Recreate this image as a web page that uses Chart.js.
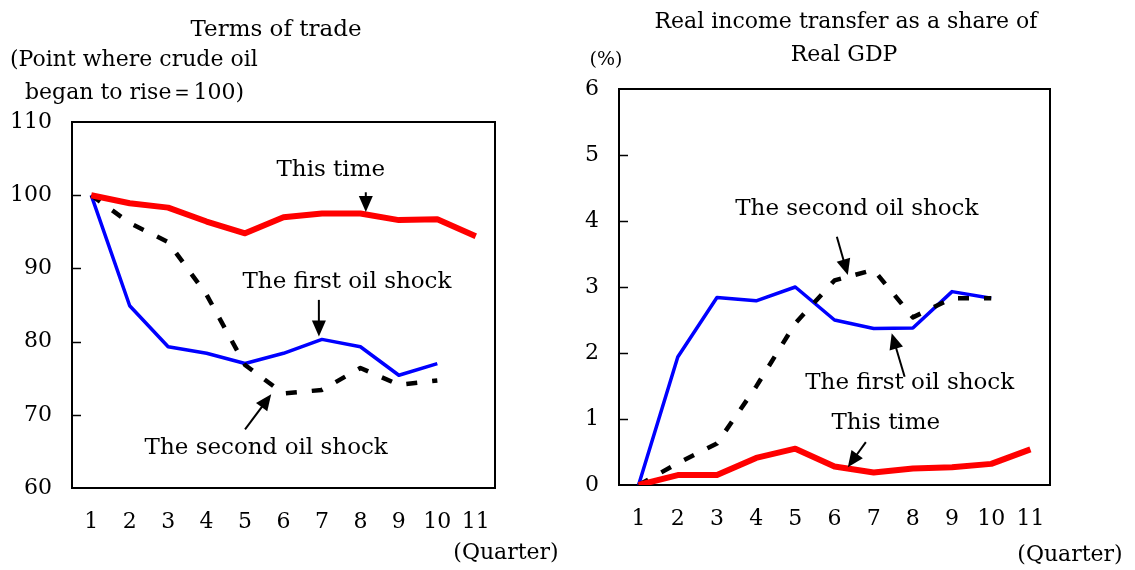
<!DOCTYPE html>
<html>
<head>
<meta charset="utf-8">
<script src="https://cdn.jsdelivr.net/npm/chart.js@4"></script>
<style>
  body { margin: 0; background: #fff; }
  canvas { position: absolute; left: 0; top: 0; }
</style>
</head>
<body>
<canvas id="left" width="1135" height="570"></canvas>
<canvas id="right" width="1135" height="570"></canvas>
<script>
const quarters = ["1", "2", "3", "4", "5", "6", "7", "8", "9", "10", "11"];

// Terms of trade (point where crude oil began to rise = 100)
const totThisTime = [100, 98.9, 98.3, 96.4, 94.8, 97.0, 97.5, 97.5, 96.6, 96.7, 94.4];
const totFirstShock = [100, 84.9, 79.3, 78.4, 77.0, 78.4, 80.3, 79.3, 75.4, 77.0, null];
const totSecondShock = [100, 96.2, 93.6, 86.4, 76.8, 72.9, 73.4, 76.4, 74.1, 74.7, null];

// Real income transfer as a share of real GDP (%)
const ritThisTime = [0, 0.15, 0.15, 0.41, 0.55, 0.28, 0.19, 0.25, 0.27, 0.32, 0.54];
const ritFirstShock = [0, 1.94, 2.84, 2.79, 3.0, 2.5, 2.37, 2.38, 2.93, 2.83, null];
const ritSecondShock = [0, 0.33, 0.63, 1.49, 2.45, 3.1, 3.26, 2.54, 2.83, 2.83, null];

const FONT = '"DejaVu Serif", serif';

const extras = {
  id: "extras",
  beforeDatasetsDraw(chart, args, opts) {
    const { ctx, chartArea: a } = chart;
    const y = chart.scales.y;
    ctx.save();
    ctx.strokeStyle = "#000";
    ctx.lineWidth = 2;
    ctx.strokeRect(a.left, a.top, a.right - a.left, a.bottom - a.top);
    ctx.lineWidth = 1.5;
    y.ticks.forEach((t) => {
      if (t.value === y.min || t.value === y.max) return;
      const py = Math.round(y.getPixelForValue(t.value)) + 0.5;
      ctx.beginPath();
      ctx.moveTo(a.left, py);
      ctx.lineTo(a.left + 9, py);
      ctx.stroke();
    });
    ctx.restore();
  },
  afterDatasetsDraw(chart, args, opts) {
    const { ctx } = chart;
    const xs = chart.scales.x;
    const ys = chart.scales.y;
    const px = (p) => [xs.getPixelForValue(p[0]), ys.getPixelForValue(p[1])];
    ctx.save();
    ctx.fillStyle = "#000";
    ctx.strokeStyle = "#000";
    ctx.textBaseline = "middle";
    (opts.notes || []).forEach((n) => {
      const [tx, ty] = px(n.at);
      ctx.font = "23px " + FONT;
      ctx.textAlign = "center";
      ctx.fillText(n.label, tx, ty);
      const [x1, y1] = px(n.from);
      const [x2, y2] = px(n.to);
      const ang = Math.atan2(y2 - y1, x2 - x1);
      const head = 16, half = 7;
      ctx.lineWidth = 2;
      ctx.beginPath();
      ctx.moveTo(x1, y1);
      ctx.lineTo(x2 - Math.cos(ang) * head * 0.8, y2 - Math.sin(ang) * head * 0.8);
      ctx.stroke();
      ctx.beginPath();
      ctx.moveTo(x2, y2);
      ctx.lineTo(x2 - head * Math.cos(ang) + half * Math.sin(ang), y2 - head * Math.sin(ang) - half * Math.cos(ang));
      ctx.lineTo(x2 - head * Math.cos(ang) - half * Math.sin(ang), y2 - head * Math.sin(ang) + half * Math.cos(ang));
      ctx.closePath();
      ctx.fill();
    });
    (opts.texts || []).forEach((t) => {
      ctx.font = (t.size || 22) + "px " + FONT;
      ctx.textAlign = t.align || "center";
      ctx.fillText(t.text, t.x, t.y);
    });
    ctx.restore();
  },
};

function makeChart(id, cfg) {
  return new Chart(document.getElementById(id), {
    type: "line",
    data: {
      labels: quarters,
      datasets: [
        { label: "This time", data: cfg.red, borderColor: "#ff0000", borderWidth: 6, order: 1 },
        { label: "The second oil shock", data: cfg.black, borderColor: "#000", borderWidth: 4.5, borderDash: [11, 15], order: 2 },
        { label: "The first oil shock", data: cfg.blue, borderColor: "#0000ff", borderWidth: 3.5, order: 3 },
      ],
    },
    options: {
      responsive: false,
      animation: false,
      events: [],
      elements: { point: { radius: 0 }, line: { tension: 0, borderJoinStyle: "round" } },
      layout: { padding: cfg.padding },
      plugins: {
        legend: { display: false },
        tooltip: { enabled: false },
        extras: { notes: cfg.notes, texts: cfg.texts },
      },
      scales: {
        x: {
          offset: true,
          grid: { display: false, drawTicks: false },
          border: { display: false },
          ticks: { color: "#000", font: { family: FONT, size: 22 }, padding: 21, maxRotation: 0, autoSkip: false },
          afterFit: (s) => { s.height = 60; },
        },
        y: {
          min: cfg.min,
          max: cfg.max,
          grid: { display: false, drawTicks: false },
          border: { display: false },
          ticks: { stepSize: cfg.step, color: "#000", font: { family: FONT, size: 22 }, padding: 20 },
          afterFit: (s) => { s.width = 60; },
        },
      },
    },
    plugins: [extras],
  });
}

makeChart("left", {
  red: totThisTime,
  blue: totFirstShock,
  black: totSecondShock,
  min: 60,
  max: 110,
  step: 10,
  padding: { left: 12, right: 640, top: 122, bottom: 22 },
  notes: [
    { label: "This time", at: [6.23, 103.5], from: [7.14, 100.4], to: [7.14, 97.7] },
    { label: "The first oil shock", at: [6.65, 88.2], from: [5.92, 85.7], to: [5.92, 80.7] },
    { label: "The second oil shock", at: [4.55, 65.5], from: [4.0, 68.0], to: [4.68, 72.8] },
  ],
  texts: [
    { text: "Terms of trade", x: 276, y: 30, size: 23 },
    { text: "(Point where crude oil", x: 10, y: 60, align: "left" },
    { text: "began to rise\uff1d100)", x: 25, y: 93, align: "left" },
    { text: "(Quarter)", x: 506, y: 553 },
  ],
});

makeChart("right", {
  red: ritThisTime,
  blue: ritFirstShock,
  black: ritSecondShock,
  min: 0,
  max: 6,
  step: 1,
  padding: { left: 559, right: 85, top: 89, bottom: 25 },
  notes: [
    { label: "The second oil shock", at: [5.57, 4.18], from: [5.06, 3.76], to: [5.34, 3.18] },
    { label: "The first oil shock", at: [6.92, 1.55], from: [6.79, 1.64], to: [6.46, 2.3] },
    { label: "This time", at: [6.31, 0.94], from: [5.8, 0.65], to: [5.34, 0.27] },
  ],
  texts: [
    { text: "Real income transfer as a share of", x: 846, y: 22 },
    { text: "Real GDP", x: 844, y: 55 },
    { text: "(%)", x: 606, y: 60, size: 19 },
    { text: "(Quarter)", x: 1070, y: 555 },
  ],
});
</script>
</body>
</html>
